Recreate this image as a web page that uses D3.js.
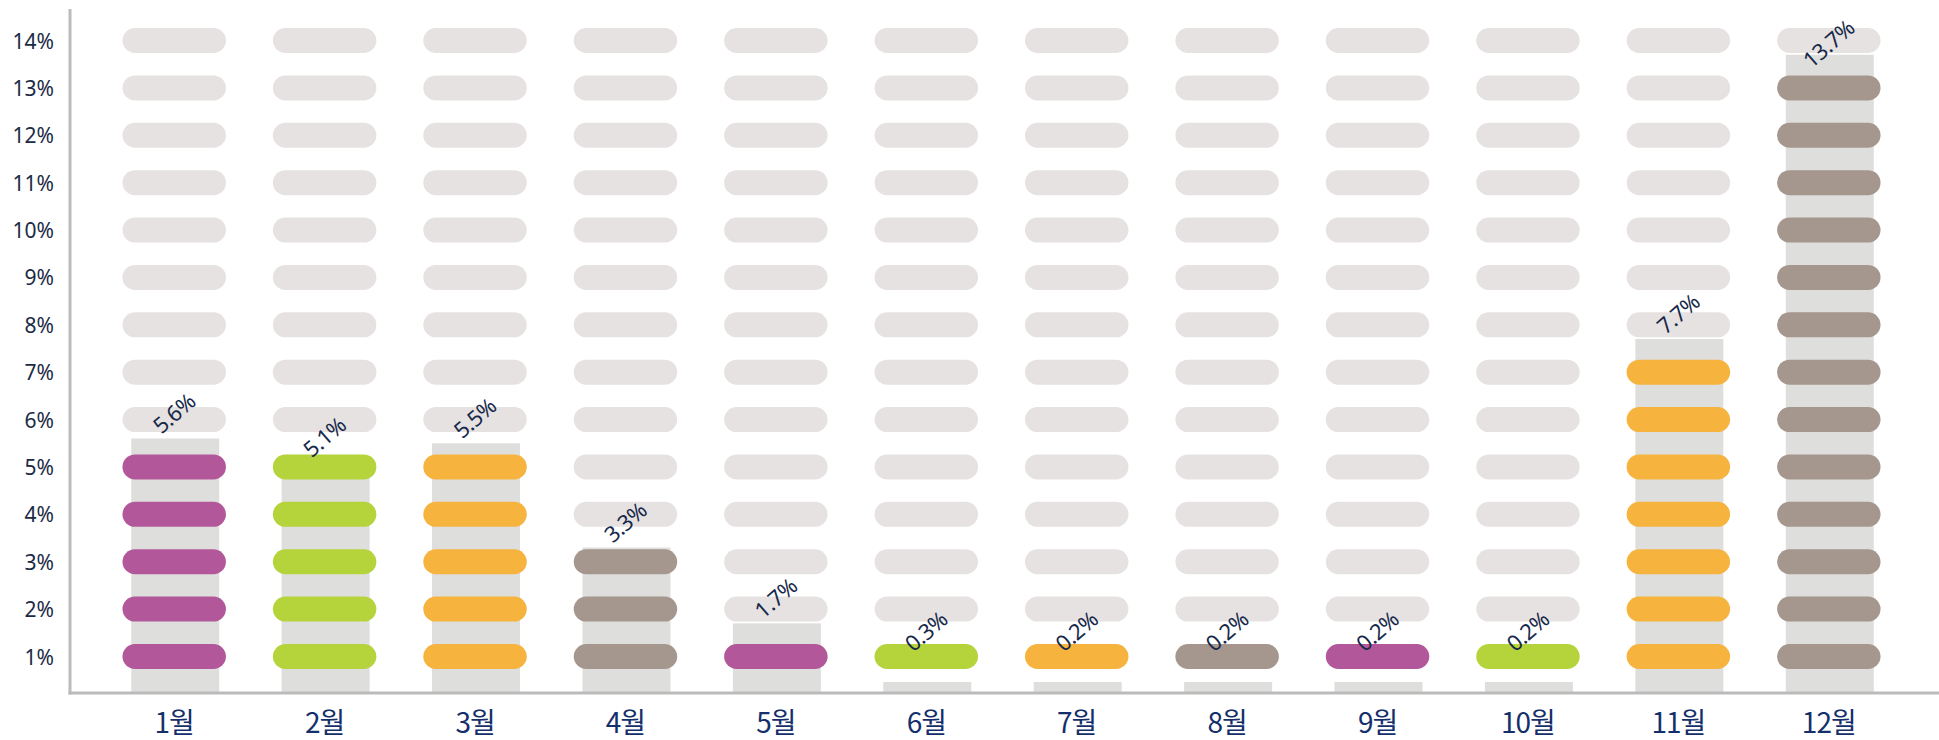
<!DOCTYPE html>
<html>
<head>
<meta charset="utf-8">
<script src="https://cdn.jsdelivr.net/npm/d3@7"></script>
<style>
  html, body { margin: 0; padding: 0; background: #fff; }
  svg { display: block; }
</style>
</head>
<body>
<svg id="chart"></svg>
<script>
// monthly share, pictograph columns

const months = ["1월", "2월", "3월", "4월", "5월", "6월", "7월", "8월", "9월", "10월", "11월", "12월"];
const values = [5.6, 5.1, 5.5, 3.3, 1.7, 0.3, 0.2, 0.2, 0.2, 0.2, 7.7, 13.7];
const groupColors = ["#b2589a", "#b5d33a", "#f6b33e", "#a5978d", "#b2589a", "#b5d33a",
                     "#f6b33e", "#a5978d", "#b2589a", "#b5d33a", "#f6b33e", "#a5978d"];
const yTicks = [1, 2, 3, 4, 5, 6, 7, 8, 9, 10, 11, 12, 13, 14];

const width = 1939;
const height = 740;

const svg = d3.select("#chart")
  .attr("width", width)
  .attr("height", height);

const axisX = 70;      // left axis line
const axisY = 693;     // bottom axis line

// Scales
const x = d3.scaleBand()
  .domain(months)
  .range([99, 1904]);

const y = d3.scaleLinear()
  .domain([1, 14])
  .range([656.5, 40.5]);

const pillW = x.step() * 0.688;
const pillH = 25;
const barW = x.step() * 0.585;

const cols = svg.append("g")
  .selectAll("g")
  .data(months)
  .join("g")
  .attr("transform", d => `translate(${x(d) + x.bandwidth() / 2},0)`);

// grey bar behind each column
cols.append("rect")
  .attr("x", -barW / 2 + 1)
  .attr("width", barW)
  .attr("y", (d, i) => Math.min(y(values[i]), axisY - 11))
  .attr("height", (d, i) => axisY - Math.min(y(values[i]), axisY - 11))
  .attr("fill", "#dededd");

// pills, coloured up to the whole percent (at least one)
cols.each(function(d, i) {
  const filled = Math.max(1, Math.floor(values[i]));
  d3.select(this).selectAll("rect.pill")
    .data(yTicks)
    .join("rect")
    .attr("class", "pill")
    .attr("x", -pillW / 2)
    .attr("y", t => y(t) - pillH / 2)
    .attr("width", pillW)
    .attr("height", pillH)
    .attr("rx", pillH / 2)
    .attr("fill", t => t <= filled ? groupColors[i] : "#e7e2e2");
});

// value labels (kept clear of the top edge)
cols.append("text")
  .attr("transform", (d, i) => {
    const top = Math.min(y(values[i]), axisY - 11, y(1));
    return `translate(0,${Math.max(top - 25, 44)}) rotate(-41)`;
  })
  .attr("text-anchor", "middle")
  .attr("dy", "0.35em")
  .attr("font-family", "'Noto Sans', 'Open Sans', sans-serif")
  .attr("font-size", 22)
  .attr("letter-spacing", -0.5)
  .attr("fill", "#17294a")
  .text((d, i) => values[i].toFixed(1) + "%");

// Y axis labels
svg.append("g")
  .selectAll("text")
  .data(yTicks)
  .join("text")
  .attr("x", axisX - 16)
  .attr("y", d => y(d))
  .attr("text-anchor", "end")
  .attr("dominant-baseline", "central")
  .attr("font-family", "'Noto Sans', 'Open Sans', sans-serif")
  .attr("font-size", 21)
  .attr("fill", "#1b2a45")
  .text(d => d + "%");

// X axis labels
svg.append("g")
  .selectAll("text")
  .data(months)
  .join("text")
  .attr("x", d => x(d) + x.bandwidth() / 2)
  .attr("y", 733)
  .attr("text-anchor", "middle")
  .attr("font-family", "'Noto Sans CJK KR', sans-serif")
  .attr("font-size", 28)
  .attr("letter-spacing", -1)
  .attr("fill", "#152f6b")
  .text(d => d);

// axis lines
svg.append("line")
  .attr("x1", axisX).attr("x2", axisX)
  .attr("y1", 9).attr("y2", axisY + 1.5)
  .attr("stroke", "#bbbbbb")
  .attr("stroke-width", 3);

svg.append("line")
  .attr("x1", axisX - 1.5).attr("x2", width)
  .attr("y1", axisY).attr("y2", axisY)
  .attr("stroke", "#bbbbbb")
  .attr("stroke-width", 3);
</script>
</body>
</html>
